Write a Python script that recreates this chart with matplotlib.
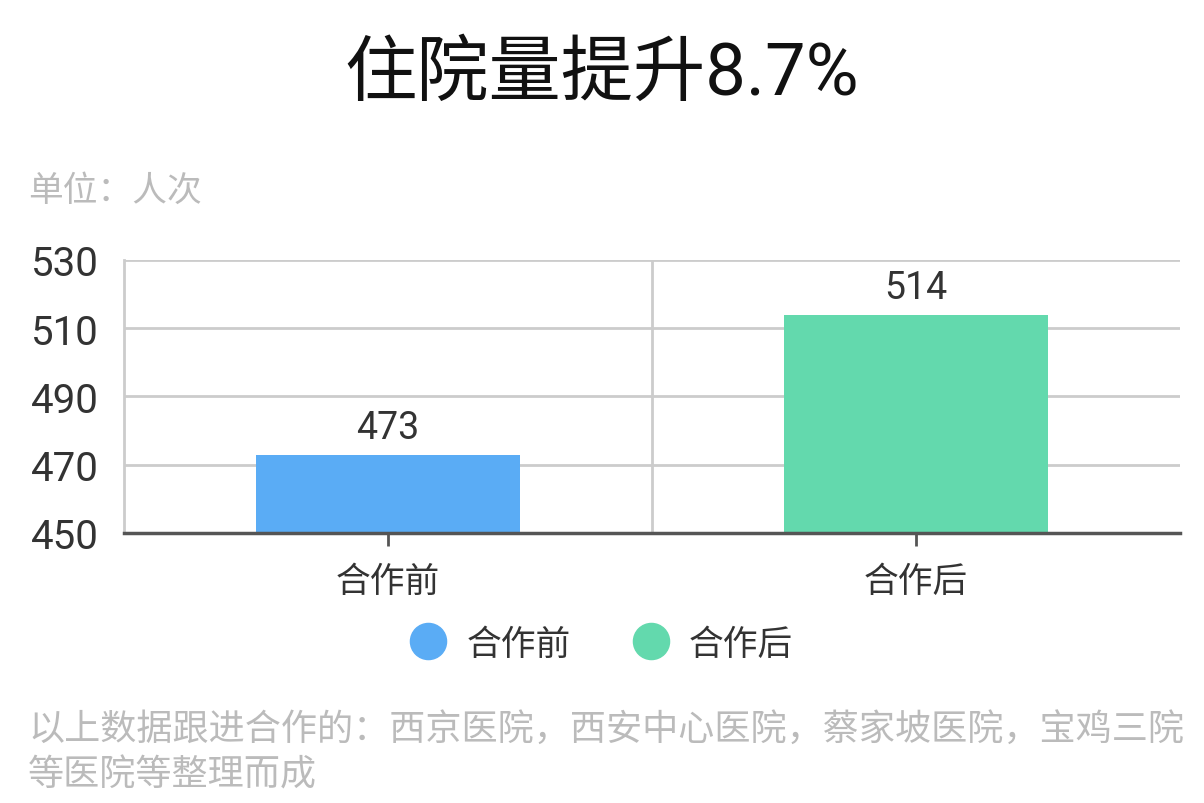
import matplotlib
matplotlib.use("Agg")
import matplotlib.pyplot as plt
from matplotlib.lines import Line2D

plt.rcParams['font.family'] = ['Roboto', 'Noto Sans CJK SC', 'DejaVu Sans']

title = "住院量提升8.7%"
unit_text = "单位：人次"
categories = ["合作前", "合作后"]
values = [473, 514]
colors = ["#5aacf5", "#63d9ad"]
y_ticks = [450, 470, 490, 510, 530]
footer_lines = ["以上数据跟进合作的：西京医院，西安中心医院，蔡家坡医院，宝鸡三院",
                "等医院等整理而成"]

W, H = 1204, 804
fig = plt.figure(figsize=(W / 100, H / 100), dpi=100)
ax = fig.add_axes([124 / W, (H - 534) / H, (1180 - 124) / W, (534 - 261) / H])

x = list(range(len(categories)))
bars = ax.bar(x, values, width=0.5, color=colors, zorder=3, bottom=0)
ax.set_xlim(-0.5, len(categories) - 0.5)
ax.set_ylim(y_ticks[0], y_ticks[-1])
ax.set_yticks(y_ticks)
ax.set_yticklabels([str(v) for v in y_ticks])
ax.set_xticks(x)
ax.set_xticklabels(categories)
ax.set_xticks([i + 0.5 for i in x[:-1]], minor=True)

ax.grid(axis='y', color='#cccccc', linewidth=2, zorder=0)
ax.grid(axis='x', which='minor', color='#cccccc', linewidth=2, zorder=0)
ax.grid(axis='x', which='major', visible=False)

for s in ['top', 'right']:
    ax.spines[s].set_visible(False)
ax.spines['left'].set_color('#cccccc')
ax.spines['left'].set_linewidth(2)
ax.spines['bottom'].set_color('#555555')
ax.spines['bottom'].set_linewidth(2.5)
ax.spines['bottom'].set_zorder(4)

ax.tick_params(axis='y', length=0, pad=18, labelsize=29, labelcolor='#333333')
ax.tick_params(axis='x', which='major', length=9, width=2, color='#555555',
               pad=14, labelsize=25, labelcolor='#333333')
ax.tick_params(axis='x', which='minor', length=0)

for b, v in zip(bars, values):
    ax.annotate(str(v), (b.get_x() + b.get_width() / 2, v), xytext=(0, 6),
                textcoords='offset points', ha='center', va='bottom',
                fontsize=27, color='#333333')

fig.text(0.5, 1 - 75 / H, title, ha='center', va='center', fontsize=52, color='#111111')
fig.text(28 / W, 1 - 191 / H, unit_text, ha='left', va='center', fontsize=25, color='#bbbbbb')
fig.text(28 / W, 1 - 731 / H, footer_lines[0], ha='left', va='center', fontsize=26, color='#bbbbbb')
fig.text(28 / W, 1 - 776 / H, footer_lines[1], ha='left', va='center', fontsize=26, color='#bbbbbb')

handles = [Line2D([], [], marker='o', linestyle='none', markersize=26,
                  markerfacecolor=c, markeredgecolor=c) for c in colors]
fig.legend(handles, categories, loc='center', bbox_to_anchor=(0.5, 1 - 645 / H),
           ncol=2, frameon=False, fontsize=25, labelcolor='#333333',
           handlelength=1.0, handletextpad=0.6, columnspacing=1.8)

fig.savefig("out.png", dpi=100)
